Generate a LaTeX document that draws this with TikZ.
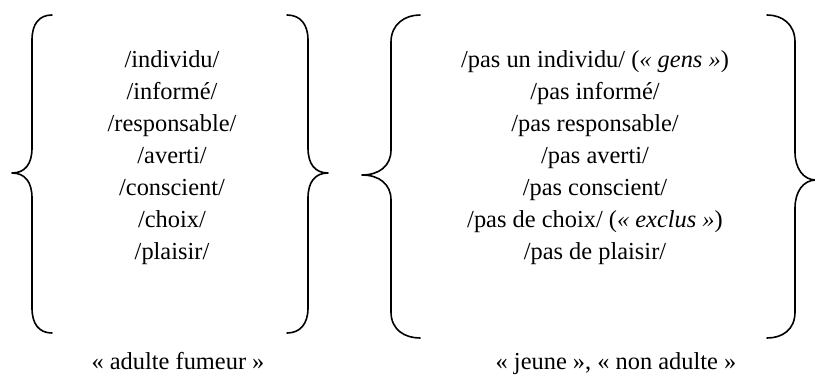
\documentclass[tikz,border=0pt]{standalone}
\usepackage{fontspec}
\setmainfont{Liberation Serif}
\usepackage{tikz}
\usetikzlibrary{positioning}

\tikzset{
  brace/.style={draw,line width=1.6bp,line cap=round,line join=round},
  wordlist/.style={align=center,inner sep=0pt,anchor=north,font=\fontsize{24.5}{32.1}\selectfont},
  caption/.style={inner sep=0pt,anchor=base,font=\fontsize{24.5}{30}\selectfont}
}

\begin{document}
\begin{tikzpicture}[x=1bp,y=-1bp]
\useasboundingbox (0,0) rectangle (815,383);

% adulte fumeur
\draw[brace] (52,15) .. controls (39,15) and (32,24) .. (32,40) -- (32,148)
  .. controls (32,164) and (25,173) .. (12,173)
  .. controls (25,173) and (32,182) .. (32,198) -- (32,308)
  .. controls (32,324) and (39,333) .. (52,333);
\draw[brace] (287,15) .. controls (300,15) and (308,24) .. (308,40) -- (308,148)
  .. controls (308,164) and (315,173) .. (328,173)
  .. controls (315,173) and (308,182) .. (308,198) -- (308,308)
  .. controls (308,324) and (300,333) .. (287,333);
\node[wordlist] (adulte) at (172,50) {/individu/\\/informé/\\/responsable/\\/averti/\\/conscient/\\/choix/\\/plaisir/};
\node[caption] (fumeur) at (178,369) {« adulte fumeur »};

% jeune
\draw[brace] (420,15) .. controls (405,15) and (391,24) .. (391,42) -- (391,150)
  .. controls (391,166) and (379,175) .. (362,175)
  .. controls (379,175) and (391,184) .. (391,200) -- (391,312)
  .. controls (391,330) and (405,338) .. (420,338);
\draw[brace] (767,15) .. controls (782,15) and (795,24) .. (795,42) -- (795,152)
  .. controls (795,168) and (803,180) .. (816,180)
  .. controls (803,180) and (795,192) .. (795,208) -- (795,312)
  .. controls (795,330) and (782,338) .. (767,338);
\node[wordlist] (jeune) at (595,50) {/pas un individu/ (\textit{« gens »})\\/pas informé/\\/pas responsable/\\/pas averti/\\/pas conscient/\\/pas de choix/ (\textit{« exclus »})\\/pas de plaisir/};
\node[caption] (nonadulte) at (616,369) {« jeune », « non adulte »};
\end{tikzpicture}
\end{document}
